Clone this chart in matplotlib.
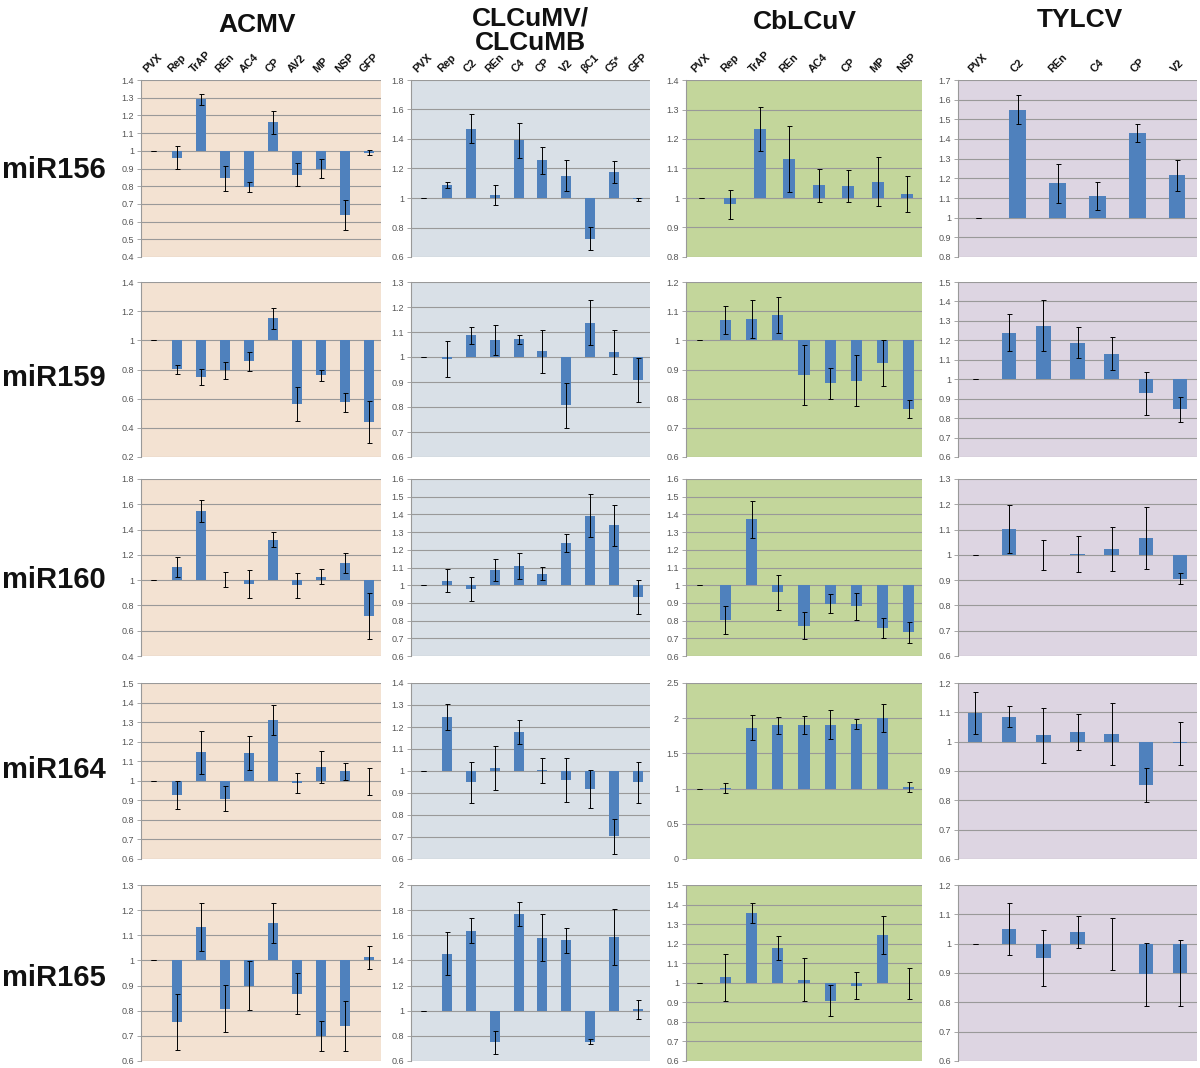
import matplotlib
matplotlib.use('Agg')
import matplotlib.pyplot as plt
import numpy as np
from matplotlib.ticker import FuncFormatter

plt.rcParams['font.family'] = ['Liberation Sans', 'DejaVu Sans']

# ---------------- data ----------------
mirnas = ['miR156', 'miR159', 'miR160', 'miR164', 'miR165']
viruses = ['ACMV', 'CLCuMV/\nCLCuMB', 'CbLCuV', 'TYLCV']

cats_acmv = ['PVX', 'Rep', 'TrAP', 'REn', 'AC4', 'CP', 'AV2', 'MP', 'NSP', 'GFP']
cats_clcumv = ['PVX', 'Rep', 'C2', 'REn', 'C4', 'CP', 'V2', 'βC1', 'C5*', 'GFP']
cats_cblcuv = ['PVX', 'Rep', 'TrAP', 'REn', 'AC4', 'CP', 'MP', 'NSP']
cats_tylcv = ['PVX', 'C2', 'REn', 'C4', 'CP', 'V2']

acmv_vals = [
    [1.0, 0.96, 1.29, 0.845, 0.795, 1.16, 0.865, 0.90, 0.635, 0.99],
    [1.0, 0.80, 0.75, 0.795, 0.855, 1.15, 0.565, 0.76, 0.575, 0.44],
    [1.0, 1.105, 1.548, 1.005, 0.967, 1.32, 0.96, 1.028, 1.133, 0.715],
    [1.0, 0.928, 1.145, 0.908, 1.142, 1.313, 0.99, 1.07, 1.048, 0.997],
    [1.0, 0.756, 1.133, 0.808, 0.90, 1.148, 0.867, 0.70, 0.738, 1.012],
]
acmv_errs = [
    [0.0, 0.065, 0.03, 0.07, 0.03, 0.065, 0.065, 0.055, 0.085, 0.012],
    [0.0, 0.03, 0.053, 0.058, 0.065, 0.075, 0.118, 0.038, 0.065, 0.145],
    [0.0, 0.078, 0.088, 0.062, 0.11, 0.06, 0.098, 0.06, 0.078, 0.183],
    [0.0, 0.072, 0.11, 0.064, 0.085, 0.077, 0.05, 0.082, 0.045, 0.069],
    [0.0, 0.112, 0.097, 0.094, 0.097, 0.08, 0.082, 0.06, 0.099, 0.046],
]

clcumv_vals = [
    [1.0, 1.09, 1.47, 1.02, 1.39, 1.255, 1.15, 0.725, 1.175, 0.99],
    [1.0, 0.992, 1.088, 1.068, 1.072, 1.023, 0.808, 1.138, 1.02, 0.908],
    [1.0, 1.025, 0.978, 1.085, 1.108, 1.065, 1.237, 1.393, 1.338, 0.935],
    [1.0, 1.245, 0.948, 1.015, 1.178, 1.004, 0.96, 0.918, 0.703, 0.948],
    [1.0, 1.455, 1.635, 0.75, 1.77, 1.58, 1.56, 0.755, 1.585, 1.01],
]
clcumv_errs = [
    [0.0, 0.02, 0.10, 0.065, 0.12, 0.09, 0.105, 0.08, 0.075, 0.01],
    [0.0, 0.071, 0.034, 0.06, 0.018, 0.087, 0.09, 0.09, 0.088, 0.089],
    [0.0, 0.065, 0.067, 0.062, 0.072, 0.037, 0.05, 0.122, 0.117, 0.095],
    [0.0, 0.06, 0.093, 0.10, 0.054, 0.057, 0.10, 0.085, 0.08, 0.095],
    [0.0, 0.17, 0.10, 0.092, 0.096, 0.188, 0.10, 0.02, 0.224, 0.077],
]

cblcuv_vals = [
    [1.0, 0.978, 1.235, 1.133, 1.043, 1.042, 1.055, 1.013],
    [1.0, 1.07, 1.073, 1.088, 0.88, 0.852, 0.862, 0.922, 0.765],
    [1.0, 0.805, 1.372, 0.96, 0.772, 0.895, 0.882, 0.757, 0.733],
    [1.0, 1.01, 1.865, 1.90, 1.905, 1.91, 1.915, 2.0, 1.025],
    [1.0, 1.028, 1.357, 1.177, 1.015, 0.908, 0.985, 1.243, 0.997],
]
cblcuv_errs = [
    [0.0, 0.048, 0.075, 0.112, 0.057, 0.054, 0.083, 0.06],
    [0.0, 0.048, 0.065, 0.062, 0.103, 0.053, 0.087, 0.079, 0.032],
    [0.0, 0.078, 0.103, 0.10, 0.077, 0.053, 0.076, 0.056, 0.057],
    [0.0, 0.07, 0.18, 0.12, 0.13, 0.21, 0.07, 0.20, 0.07],
    [0.0, 0.12, 0.052, 0.061, 0.11, 0.08, 0.068, 0.098, 0.08],
]

tylcv_vals = [
    [1.0, 1.55, 1.175, 1.11, 1.43, 1.215],
    [1.0, 1.24, 1.275, 1.188, 1.132, 0.928, 0.845],
    [1.0, 1.103, 1.0, 1.003, 1.022, 1.068, 0.905],
    [1.097, 1.085, 1.022, 1.032, 1.025, 0.853, 0.995],
    [1.0, 1.05, 0.95, 1.04, 0.998, 0.895, 0.90],
]
tylcv_errs = [
    [0.0, 0.075, 0.10, 0.072, 0.044, 0.08],
    [0.0, 0.097, 0.13, 0.08, 0.087, 0.11, 0.065],
    [0.0, 0.094, 0.059, 0.07, 0.087, 0.123, 0.022],
    [0.072, 0.035, 0.094, 0.061, 0.106, 0.058, 0.073],
    [0.0, 0.087, 0.095, 0.054, 0.089, 0.106, 0.113],
]

# axis ranges (min, max, step) per column, per row
acmv_y = [(0.4, 1.4, 0.1), (0.2, 1.4, 0.2), (0.4, 1.8, 0.2), (0.6, 1.5, 0.1), (0.6, 1.3, 0.1)]
clcumv_y = [(0.6, 1.8, 0.2), (0.6, 1.3, 0.1), (0.6, 1.6, 0.1), (0.6, 1.4, 0.1), (0.6, 2.0, 0.2)]
cblcuv_y = [(0.8, 1.4, 0.1), (0.6, 1.2, 0.1), (0.6, 1.6, 0.1), (0.0, 2.5, 0.5), (0.6, 1.5, 0.1)]
tylcv_y = [(0.8, 1.7, 0.1), (0.6, 1.5, 0.1), (0.6, 1.3, 0.1), (0.6, 1.2, 0.1), (0.6, 1.2, 0.1)]

# ---------------- layout / style ----------------
W, H = 1200, 1068
fig = plt.figure(figsize=(W / 100, H / 100), dpi=100)

col_x = [(141, 381), (411, 650), (686, 922), (958, 1197)]
row_y = [(80, 257), (282, 457), (479, 656), (683, 859), (885, 1061)]
bg = ['#F3E2D2', '#D9E0E7', '#C3D69B', '#DDD5E2']
bar_color = '#4F81BD'
grid_color = '#999999'

cols = [
    (cats_acmv, acmv_vals, acmv_errs, acmv_y),
    (cats_clcumv, clcumv_vals, clcumv_errs, clcumv_y),
    (cats_cblcuv, cblcuv_vals, cblcuv_errs, cblcuv_y),
    (cats_tylcv, tylcv_vals, tylcv_errs, tylcv_y),
]

fmt = FuncFormatter(lambda v, p: f'{round(v, 2):g}')

for c, (cats, vals, errs, yr) in enumerate(cols):
    x0, x1 = col_x[c]
    for r in range(5):
        y0, y1 = row_y[r]
        ax = fig.add_axes([x0 / W, 1 - y1 / H, (x1 - x0) / W, (y1 - y0) / H])
        v = np.array(vals[r])
        e = np.array(errs[r])
        x = np.arange(len(v))
        ax.set_facecolor(bg[c])
        ax.bar(x, v - 1, bottom=1, width=0.42, color=bar_color, zorder=3)
        ax.errorbar(x, v, yerr=e, fmt='none', ecolor='black', elinewidth=0.7,
                    capsize=1.8, capthick=0.7, zorder=4)
        lo, hi, st = yr[r]
        ax.set_xlim(-0.5, len(v) - 0.5)
        ax.set_ylim(lo, hi)
        ax.set_yticks(np.arange(lo, hi + st / 2, st))
        ax.yaxis.set_major_formatter(fmt)
        ax.set_xticks([])
        ax.yaxis.grid(True, color=grid_color, lw=0.8, zorder=0)
        ax.set_axisbelow(True)
        for s in ['top', 'right', 'bottom']:
            ax.spines[s].set_visible(False)
        ax.spines['left'].set_color(grid_color)
        ax.spines['left'].set_linewidth(0.8)
        ax.tick_params(axis='y', length=3, width=0.6, color=grid_color,
                       labelsize=6.5, labelcolor='#555555', pad=2)
        if r == 0:
            for i, lab in enumerate(cats):
                ax.annotate(lab, (i, hi), xytext=(0, 4), textcoords='offset points',
                            rotation=45, ha='center', va='bottom', fontsize=7.8,
                            fontweight='bold', color='#111111', annotation_clip=False)

# column titles
title_pos = [(257, 25), (530, 31), (805, 22), (1080, 20)]
for (tx, ty), name in zip(title_pos, viruses):
    fig.text(tx / W, 1 - ty / H, name, ha='center', va='center', fontsize=19,
             fontweight='bold', linespacing=1.0, color='#111111')

# row labels
row_label_y = [170, 378, 580, 770, 978]
for ry, name in zip(row_label_y, mirnas):
    fig.text(2 / W, 1 - ry / H, name, ha='left', va='center', fontsize=21,
             fontweight='bold', color='#111111')

fig.savefig('out.png', dpi=100, facecolor='white')
